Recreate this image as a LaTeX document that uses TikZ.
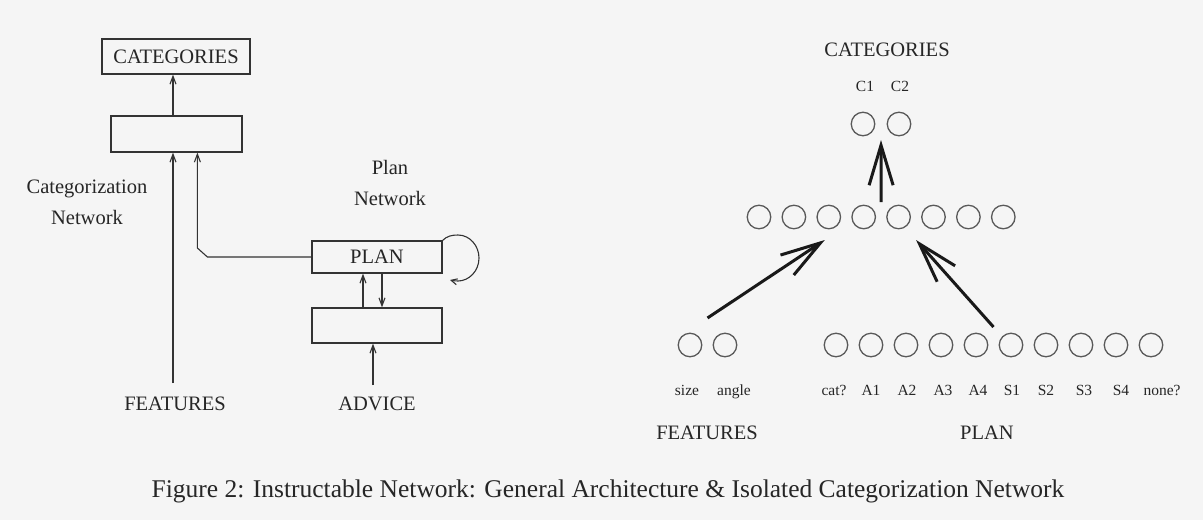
\documentclass[tikz,border=0pt]{standalone}
\usepackage{fontspec}
\setmainfont{Liberation Serif}
\usetikzlibrary{arrows.meta,calc}
\tikzset{
  lbl/.style={font=\fontsize{20.5}{31}\selectfont, text=black!85, inner sep=0pt},
  small/.style={font=\fontsize{15.5}{18}\selectfont, text=black!85, inner sep=0pt},
  blk/.style={draw=black!80, line width=1.2pt, inner sep=0pt, rectangle},
  wire/.style={draw=black!80, line width=1.1pt},
  tip/.style={-{Straight Barb[length=8pt,width=6pt]}},
  unit/.style={circle, draw=black!65, line width=1.3pt, minimum size=23.5pt, inner sep=0pt},
  bigarrow/.style={draw=black!90, line width=3pt, -{Straight Barb[length=40pt,width=24pt]}},
}
\begin{document}
\begin{tikzpicture}[x=1pt,y=-1pt]
\useasboundingbox[fill=black!4] (0,0) rectangle (1203,520);

% ---------- general architecture ----------
\node[blk, lbl, minimum width=148, minimum height=35] (cat) at (176,56.5) {CATEGORIES};
\node[blk, minimum width=131, minimum height=36] (hid) at (176.5,134) {};
\node[blk, lbl, minimum width=130, minimum height=32] (plan) at (377,257) {PLAN};
\node[blk, minimum width=130, minimum height=35] (adv) at (377,325.5) {};

\node[lbl, align=center] (catnet) at (87,202.5) {Categorization\\Network};
\node[lbl, align=center] (plannet) at (390,182.5) {Plan\\Network};
\node[lbl, anchor=base] (feat) at (175,410) {FEATURES};
\node[lbl, anchor=base] (advice) at (377,410) {ADVICE};

\draw[wire, tip] ([shift={(-2pt,27pt)}]feat.base) coordinate (f0) -- (f0 |- hid.south);
\draw[wire, tip] (hid.north -| f0) -- (cat.south -| f0);
\draw[wire, tip] (plan.west) -- ++(-104,0) -- ++(-10,-9) coordinate (bend) -- (bend |- hid.south);
\draw[wire, tip] ([xshift=-14pt]adv.north) -- ([xshift=-14pt]plan.south);
\draw[wire, tip] ([xshift=5pt]plan.south) -- ([xshift=5pt]adv.north);
\draw[wire, tip] ([shift={(-4pt,25pt)}]advice.base) coordinate (a0) -- (a0 |- adv.south);
% recurrent loop on the plan network
\draw[wire, -{Straight Barb[length=6pt,width=6pt]}] (plan.north east)
  .. controls (447,236) and (452,235) .. (458,235)
  .. controls (470,235) and (479,246) .. (479,258)
  .. controls (479,271) and (469,281) .. (458,281)
  .. controls (455,281) and (452,280.5) .. (450,280);

% ---------- isolated categorization network ----------
\node[lbl, anchor=base] (rcat) at (887,56) {CATEGORIES};
\node[unit] (c1) at (863,124) {};
\node[unit] (c2) at (899,124) {};
\node[small, anchor=base] (lc1) at (865,91) {C1};
\node[small, anchor=base] (lc2) at (900,91) {C2};

\foreach \i in {1,...,8}
  \node[unit] (h\i) at ({759+34.9*(\i-1)},217) {};

\node[unit] (f1) at (690,345) {};
\node[unit] (f2) at (725,345) {};
\node[small, anchor=base] (lsize) at (687,395) {size};
\node[small, anchor=base] (langle) at (734,395) {angle};

\foreach \i in {1,...,10}
  \node[unit] (p\i) at ({836+35*(\i-1)},345) {};
\foreach \t/\x [count=\i] in {cat?/834, A1/871, A2/907, A3/943, A4/978, S1/1012, S2/1046, S3/1084, S4/1121, none?/1162}
  \node[small, anchor=base] (lp\i) at (\x,395) {\t};

\node[lbl, anchor=base] (rfeat) at (707,439) {FEATURES};
\node[lbl, anchor=base] (rplan) at (987,439) {PLAN};

\draw[bigarrow] ($(h4)!.5!(h5)+(0,-15)$) -- ($(c1)!.5!(c2)+(0,16)$);
\draw[bigarrow] ($(f1)!.5!(f2)+(0,-27)$) -- ($(h3)+(-4,23)$);
\draw[bigarrow] ($(p5)!.5!(p6)+(0,-18)$) -- ($(h5)!.5!(h6)+(0,23)$);

% ---------- caption ----------
\node[font=\fontsize{25.5}{30}\selectfont, text=black!85, inner sep=0pt, anchor=base] (caption) at (608,497)
  {Figure 2: Instructable Network: General Architecture \& Isolated Categorization Network};
\end{tikzpicture}
\end{document}
